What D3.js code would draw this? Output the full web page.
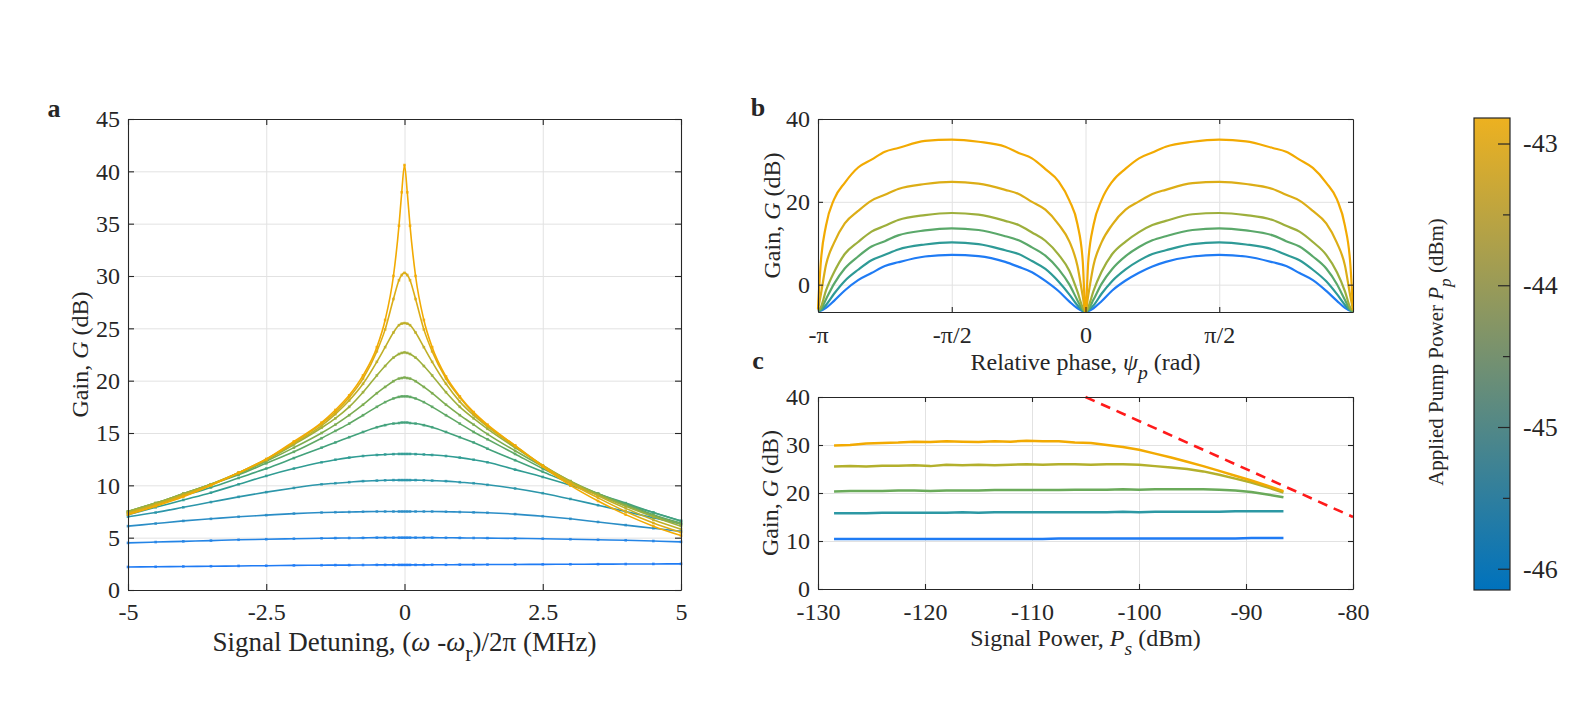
<!DOCTYPE html>
<html><head><meta charset="utf-8">
<script src="https://cdn.jsdelivr.net/npm/d3@7"></script>
<style>
body{margin:0;background:#fff;}
svg text{font-family:"Liberation Serif","Times New Roman",Times,serif;}
</style></head><body>
<script>
// ---------------- DATA ----------------
// Panel a: gain vs signal detuning (MHz)
const detuningMHz = [-5,-4.5,-4,-3.5,-3,-2.5,-2,-1.5,-1.25,-1,-0.75,-0.5,-0.35,-0.2,-0.1,-0.05,0,0.05,0.1,0.2,0.35,0.5,0.75,1,1.25,1.5,2,2.5,3,3.5,4,4.5,5];
const gainA1  = [2.2,2.22,2.25,2.27,2.3,2.32,2.35,2.37,2.38,2.38,2.39,2.4,2.4,2.4,2.4,2.4,2.4,2.4,2.4,2.4,2.4,2.41,2.41,2.42,2.42,2.43,2.44,2.45,2.46,2.47,2.48,2.49,2.5];
const gainA2  = [4.5,4.58,4.65,4.72,4.8,4.85,4.9,4.94,4.96,4.97,4.98,5.0,5.0,5.0,5.0,5.0,5.0,5.0,5.0,5.0,5.0,5.0,4.99,4.98,4.97,4.96,4.93,4.9,4.85,4.8,4.75,4.68,4.6];
const gainA3  = [6.1,6.35,6.6,6.8,7.0,7.15,7.3,7.4,7.43,7.45,7.48,7.5,7.5,7.5,7.5,7.5,7.5,7.5,7.5,7.5,7.5,7.5,7.48,7.45,7.42,7.38,7.25,7.05,6.8,6.5,6.2,5.9,5.6];
const gainA4  = [7.0,7.4,7.9,8.4,8.9,9.35,9.75,10.1,10.2,10.3,10.4,10.45,10.48,10.5,10.5,10.5,10.5,10.5,10.5,10.5,10.48,10.45,10.4,10.3,10.2,10.05,9.7,9.25,8.7,8.1,7.5,6.9,6.3];
const gainA5  = [7.2,7.9,8.6,9.3,10.1,10.9,11.6,12.2,12.45,12.65,12.8,12.9,12.95,12.98,13.0,13.0,13.0,13.0,13.0,12.98,12.95,12.9,12.8,12.65,12.45,12.2,11.5,10.8,10.0,9.1,8.2,7.4,6.6];
const gainA6  = [7.4,8.2,9.0,9.8,10.7,11.6,12.6,13.6,14.1,14.6,15.1,15.55,15.75,15.9,15.95,16.0,16.0,16.0,15.95,15.9,15.75,15.55,15.1,14.6,14.1,13.5,12.4,11.3,10.2,9.2,8.3,7.4,6.6];
const gainA7  = [7.5,8.3,9.2,10.1,11.0,12.1,13.2,14.5,15.2,15.9,16.7,17.5,17.95,18.3,18.45,18.5,18.5,18.5,18.45,18.3,17.95,17.5,16.7,15.9,15.1,14.4,13.0,11.6,10.3,9.2,8.2,7.2,6.4];
const gainA8  = [7.5,8.3,9.2,10.1,11.1,12.3,13.6,15.0,15.8,16.7,17.7,18.8,19.4,19.95,20.2,20.25,20.3,20.25,20.2,19.95,19.4,18.8,17.7,16.7,15.8,14.9,13.3,11.8,10.4,9.2,8.1,7.1,6.3];
const gainA9  = [7.5,8.3,9.2,10.1,11.2,12.4,13.9,15.5,16.4,17.5,18.9,20.5,21.4,22.2,22.55,22.65,22.7,22.65,22.55,22.2,21.4,20.5,18.9,17.5,16.4,15.4,13.6,11.9,10.4,9.1,8.0,7.0,6.1];
const gainA10 = [7.4,8.2,9.1,10.1,11.2,12.5,14.0,15.7,16.8,18.1,19.7,21.8,23.2,24.6,25.3,25.45,25.5,25.45,25.3,24.6,23.2,21.8,19.7,18.0,16.7,15.6,13.7,11.9,10.3,9.0,7.8,6.7,5.8];
const gainA11 = [7.3,8.1,9.0,10.0,11.2,12.5,14.1,15.9,17.0,18.4,20.2,22.8,24.9,27.8,29.6,30.1,30.3,30.1,29.6,27.8,24.9,22.8,20.2,18.4,16.9,15.7,13.8,11.9,10.2,8.8,7.5,6.4,5.5];
const gainA12 = [7.2,8.0,8.9,10.0,11.2,12.5,14.2,16.0,17.2,18.6,20.5,23.2,25.8,30.0,34.8,38.0,40.6,38.0,34.8,30.0,25.8,23.2,20.4,18.5,17.0,15.8,13.8,11.8,10.0,8.5,7.2,6.1,5.2];
const seriesA = [gainA1,gainA2,gainA3,gainA4,gainA5,gainA6,gainA7,gainA8,gainA9,gainA10,gainA11,gainA12];
const coloursA = ["#1f7bf4","#2384e6","#2a8dc6","#2c96aa","#309c93","#43a27c","#5fa865","#7cac50","#9daf3c","#bfaf28","#dcad16","#f2aa02"];
const xTicksA = [-5,-2.5,0,2.5,5];
const yTicksA = [0,5,10,15,20,25,30,35,40,45];

// Panel b: gain vs relative phase (in units of pi)
const phaseFrac = [-1,-0.99,-0.97,-0.94,-0.9,-0.85,-0.8,-0.75,-0.7,-0.6,-0.5,-0.4,-0.3,-0.25,-0.2,-0.15,-0.1,-0.06,-0.03,-0.01,0,0.01,0.03,0.06,0.1,0.15,0.2,0.25,0.3,0.4,0.5,0.6,0.7,0.75,0.8,0.85,0.9,0.94,0.97,0.99,1];
const gainB1 = [-6.4,-6.3,-5.6,-3.9,-1.4,1.1,2.8,4.5,5.4,6.8,7.2,6.9,5.5,4.3,3.0,0.9,-1.6,-4.1,-5.7,-6.4,-6.6,-6.4,-5.7,-4.0,-1.4,1.0,2.9,4.4,5.5,6.8,7.2,6.8,5.4,4.5,2.8,1.1,-1.5,-3.9,-5.6,-6.3,-6.4];
const gainB2 = [-6.4,-6.2,-4.9,-2.2,0.9,3.6,5.9,7.2,8.5,9.7,10.2,9.8,8.3,7.4,5.7,3.8,0.7,-2.4,-5.0,-6.3,-6.6,-6.2,-5.0,-2.2,0.9,3.7,5.8,7.4,8.3,9.8,10.2,9.7,8.5,7.2,5.9,3.6,0.8,-2.3,-4.9,-6.2,-6.4];
const gainB3 = [-6.3,-6.0,-3.5,0.2,3.9,6.8,9.2,10.5,11.9,13.1,13.6,13.2,11.7,10.7,9.0,7.0,3.7,0.0,-3.8,-6.1,-6.6,-6.0,-3.6,0.2,3.8,6.9,9.1,10.7,11.7,13.2,13.6,13.1,11.9,10.5,9.2,6.8,3.9,0.1,-3.7,-6.1,-6.4];
const gainB4 = [-6.2,-5.5,-1.4,3.0,7.4,10.3,12.8,14.2,15.6,16.8,17.3,16.9,15.4,14.4,12.6,10.6,7.2,3.3,-1.7,-5.6,-6.6,-5.5,-1.5,3.1,7.4,10.4,12.7,14.4,15.4,17.0,17.3,16.8,15.6,14.2,12.8,10.3,7.2,3.0,-1.6,-5.6,-6.3];
const gainB5 = [-6.0,-2.6,4.8,10.1,14.8,17.8,20.3,21.7,23.1,24.3,24.8,24.4,22.9,21.9,20.0,18.1,14.5,10.4,4.5,-2.9,-6.6,-2.7,4.7,10.2,14.5,18.1,20.1,21.9,22.9,24.5,24.8,24.3,23.1,21.7,20.3,17.8,14.8,10.1,4.6,-2.8,-6.1];
const gainB6 = [-5.8,5.0,14.3,20.6,24.6,28.3,30.2,32.1,33.0,34.7,35.0,34.5,33.3,31.8,30.5,27.9,24.9,20.3,14.6,5.4,-6.6,5.3,14.4,20.4,24.9,28.0,30.5,31.9,33.3,34.5,35.0,34.6,33.0,32.1,30.2,28.2,24.6,20.6,14.2,5.0,-6.0];
const seriesB = [gainB1,gainB2,gainB3,gainB4,gainB5,gainB6];
const coloursB = ["#1f7bf4","#2e9a96","#5aa86a","#9daf3c","#dcad16","#f2aa02"];
const xTicksB = [-1,-0.5,0,0.5];
const xTickLabelsB = ["-\u03C0","-\u03C0/2","0","\u03C0/2"];
const yTicksB = [0,20,40];

// Panel c: gain vs signal power (dBm)
const signalPower = [-128.5,-127,-125.5,-124,-122.5,-121,-119.5,-118,-116.5,-115,-113.5,-112,-110.5,-109,-107.5,-106,-104.5,-103,-101.5,-100,-98.5,-97,-95.5,-94,-92.5,-91,-89.5,-88,-86.5];
const gainC1 = [10.4,10.4,10.4,10.4,10.4,10.4,10.4,10.4,10.4,10.4,10.4,10.4,10.4,10.4,10.5,10.5,10.5,10.5,10.5,10.5,10.5,10.5,10.5,10.5,10.5,10.5,10.6,10.6,10.6];
const gainC2 = [15.8,15.8,15.8,15.9,15.9,15.9,15.9,15.9,16.0,15.9,16.0,16.0,16.0,16.0,16.0,16.0,16.0,16.0,16.1,16.0,16.1,16.1,16.1,16.1,16.1,16.2,16.2,16.2,16.2];
const gainC3 = [20.3,20.4,20.4,20.4,20.5,20.5,20.4,20.5,20.5,20.5,20.6,20.6,20.6,20.6,20.6,20.7,20.7,20.7,20.8,20.7,20.8,20.8,20.8,20.8,20.7,20.5,20.2,19.7,19.1];
const gainC4 = [25.5,25.6,25.5,25.7,25.7,25.8,25.6,25.9,25.8,25.9,25.8,25.9,26.0,25.9,26.0,26.0,25.9,26.0,26.0,25.9,25.6,25.3,25.0,24.5,23.8,23.0,22.2,21.2,20.1];
const gainC5 = [29.9,30.0,30.3,30.4,30.5,30.7,30.6,30.8,30.7,30.6,30.8,30.7,30.9,30.8,30.8,30.5,30.4,30.0,29.6,29.0,28.2,27.4,26.5,25.6,24.6,23.6,22.6,21.5,20.4];
const seriesC = [gainC1,gainC2,gainC3,gainC4,gainC5];
const coloursC = ["#1f7bf4","#2c98a4","#6aaa5a","#b3b02c","#f2aa02"];
const limitPower = [-105,-80];
const limitGain = [40,15];
const xTicksC = [-130,-120,-110,-100,-90,-80];
const yTicksC = [0,10,20,30,40];

// Colour bar
const pumpDomain = [-46.15,-42.82];
const pumpTicks = [-46,-45,-44,-43];
const pumpMinorTicks = [-45.5,-44.5,-43.5];

// ---------------- DRAWING ----------------
const FONT = '"Liberation Serif","Times New Roman",Times,serif';
const AX = "#262626";
const TICKFS = 24;
const svg = d3.select("body").append("svg").attr("width",1595).attr("height",709);

function richText(parent, x, y, parts, fs, opts={}) {
  const g = parent.append("g").attr("transform", `translate(${x},${y})` + (opts.rotate ? ` rotate(${opts.rotate})` : ""));
  const t = g.append("text").attr("text-anchor", opts.anchor || "middle")
    .style("font-family", FONT).attr("font-size", fs).attr("fill", AX)
    .attr("font-weight", opts.bold ? "bold" : "normal");
  let shifted = 0;
  parts.forEach(p => {
    const s = t.append("tspan").text(p.t);
    if (p.i) s.attr("font-style","italic");
    if (p.sub) { s.attr("font-size", fs*0.82).attr("dy", fs*0.38); shifted += fs*0.38; }
    else if (shifted) { s.attr("dy", -shifted); shifted = 0; }
  });
  return t;
}

function makePanel(box, xDom, yDom, xt, yt, xf, yf, tickLen, pad) {
  const x = d3.scaleLinear().domain(xDom).range([box.x0, box.x1]);
  const y = d3.scaleLinear().domain(yDom).range([box.y1, box.y0]);
  const w = box.x1 - box.x0, h = box.y1 - box.y0;
  const grid = svg.append("g");
  grid.append("g").attr("transform", `translate(0,${box.y1})`)
    .call(d3.axisBottom(x).tickValues(xt).tickSize(-h).tickFormat(""))
    .call(s => { s.select(".domain").remove(); s.selectAll("line").attr("stroke","#e2e2e2"); });
  grid.append("g").attr("transform", `translate(${box.x0},0)`)
    .call(d3.axisLeft(y).tickValues(yt).tickSize(-w).tickFormat(""))
    .call(s => { s.select(".domain").remove(); s.selectAll("line").attr("stroke","#e2e2e2"); });
  const data = svg.append("g");
  function finish() {
    const st = s => {
      s.attr("font-family", null);
      s.select(".domain").attr("stroke", AX).attr("stroke-width", 1.1);
      s.selectAll(".tick line").attr("stroke", AX).attr("stroke-width", 1.1);
      s.selectAll(".tick text").style("font-family", FONT).attr("font-size", TICKFS).attr("fill", AX);
    };
    svg.append("g").attr("transform", `translate(0,${box.y1})`)
      .call(d3.axisBottom(x).tickValues(xt).tickSize(-tickLen).tickSizeOuter(0).tickPadding(pad).tickFormat(xf)).call(st);
    svg.append("g").attr("transform", `translate(0,${box.y0})`)
      .call(d3.axisTop(x).tickValues(xt).tickSize(-tickLen).tickSizeOuter(0).tickFormat("")).call(st);
    svg.append("g").attr("transform", `translate(${box.x0},0)`)
      .call(d3.axisLeft(y).tickValues(yt).tickSize(-tickLen).tickSizeOuter(0).tickPadding(8).tickFormat(yf)).call(st);
    svg.append("g").attr("transform", `translate(${box.x1},0)`)
      .call(d3.axisRight(y).tickValues(yt).tickSize(-tickLen).tickSizeOuter(0).tickFormat("")).call(st);
  }
  return {x, y, data, finish};
}

// ---- Panel a ----
const boxA = {x0:128, x1:681, y0:119, y1:590};
const pA = makePanel(boxA, [-5,5], [0,45], xTicksA, yTicksA, d => String(d), d => String(d), 6, 13);
seriesA.forEach((s, k) => {
  const pts = detuningMHz.map((d, i) => [d, s[i]]);
  pA.data.append("path").datum(pts)
    .attr("d", d3.line().x(d => pA.x(d[0])).y(d => pA.y(d[1])).curve(d3.curveMonotoneX))
    .attr("fill","none").attr("stroke", coloursA[k]).attr("stroke-width", 1.6);
  pA.data.selectAll(null).data(pts).enter().append("rect")
    .attr("x", d => pA.x(d[0]) - 1.3).attr("y", d => pA.y(d[1]) - 1.3)
    .attr("width", 2.6).attr("height", 2.6).attr("fill", coloursA[k]).attr("opacity", 0.85);
});
pA.finish();
richText(svg, (boxA.x0+boxA.x1)/2, 651, [{t:"Signal Detuning, ("},{t:"\u03C9",i:true},{t:" -"},{t:"\u03C9",i:true},{t:"r",sub:true},{t:")/2\u03C0 (MHz)"}], 27);
richText(svg, 88, (boxA.y0+boxA.y1)/2, [{t:"Gain, "},{t:"G",i:true},{t:" (dB)"}], 24, {rotate:-90});
richText(svg, 54, 117, [{t:"a"}], 26, {bold:true});

// ---- Panel b ----
const boxB = {x0:818, x1:1353, y0:119, y1:312};
const pB = makePanel(boxB, [-1,1], [-6.6,40], xTicksB, yTicksB, (d,i) => xTickLabelsB[i], d => String(d), 5, 14);
seriesB.forEach((s, k) => {
  const pts = phaseFrac.map((d, i) => [d, s[i]]);
  pB.data.append("path").datum(pts)
    .attr("d", d3.line().x(d => pB.x(d[0])).y(d => pB.y(d[1])).curve(d3.curveMonotoneX))
    .attr("fill","none").attr("stroke", coloursB[k]).attr("stroke-width", 2.2);
});
pB.finish();
richText(svg, (boxB.x0+boxB.x1)/2, 370, [{t:"Relative phase, "},{t:"\u03C8",i:true},{t:"p",sub:true,i:true},{t:" (rad)"}], 24);
richText(svg, 780, (boxB.y0+boxB.y1)/2, [{t:"Gain, "},{t:"G",i:true},{t:" (dB)"}], 24, {rotate:-90});
richText(svg, 758, 116, [{t:"b"}], 26, {bold:true});

// ---- Panel c ----
const boxC = {x0:818, x1:1353, y0:397, y1:589};
const pC = makePanel(boxC, [-130,-80], [0,40], xTicksC, yTicksC, d => String(d), d => String(d), 5, 14);
seriesC.forEach((s, k) => {
  const pts = signalPower.map((d, i) => [d, s[i]]);
  pC.data.append("path").datum(pts)
    .attr("d", d3.line().x(d => pC.x(d[0])).y(d => pC.y(d[1])))
    .attr("fill","none").attr("stroke", coloursC[k]).attr("stroke-width", 2.5).attr("stroke-linejoin","round");
});
pC.data.append("path").datum(limitPower.map((d,i) => [d, limitGain[i]]))
  .attr("d", d3.line().x(d => pC.x(d[0])).y(d => pC.y(d[1])))
  .attr("fill","none").attr("stroke","#ff1a1a").attr("stroke-width",2.6).attr("stroke-dasharray","10,7");
pC.finish();
richText(svg, (boxC.x0+boxC.x1)/2, 646, [{t:"Signal Power, "},{t:"P",i:true},{t:"s",sub:true,i:true},{t:" (dBm)"}], 24);
richText(svg, 778, (boxC.y0+boxC.y1)/2, [{t:"Gain, "},{t:"G",i:true},{t:" (dB)"}], 24, {rotate:-90});
richText(svg, 758, 369, [{t:"c"}], 26, {bold:true});

// ---- Colour bar ----
const cb = {x0:1474, x1:1510, y0:118, y1:590};
const defs = svg.append("defs");
const grad = defs.append("linearGradient").attr("id","cbg").attr("x1",0).attr("y1",1).attr("x2",0).attr("y2",0);
grad.append("stop").attr("offset","0%").attr("stop-color","#0072BD");
grad.append("stop").attr("offset","100%").attr("stop-color","#EDB120");
svg.append("rect").attr("x",cb.x0).attr("y",cb.y0).attr("width",cb.x1-cb.x0).attr("height",cb.y1-cb.y0)
  .attr("fill","url(#cbg)").attr("stroke",AX).attr("stroke-width",1.2);
const cbScale = d3.scaleLinear().domain(pumpDomain).range([cb.y1, cb.y0]);
svg.append("g").attr("transform",`translate(${cb.x1},0)`)
  .call(d3.axisRight(cbScale).tickValues(pumpTicks).tickSize(-12).tickSizeOuter(0).tickPadding(13).tickFormat(d => String(d)))
  .call(s => { s.attr("font-family", null); s.select(".domain").remove();
    s.selectAll(".tick line").attr("stroke",AX).attr("stroke-width",1.2);
    s.selectAll(".tick text").style("font-family",FONT).attr("font-size",26).attr("fill",AX); });
svg.append("g").attr("transform",`translate(${cb.x1},0)`)
  .call(d3.axisRight(cbScale).tickValues(pumpMinorTicks).tickSize(-7).tickFormat(""))
  .call(s => { s.select(".domain").remove(); s.selectAll(".tick line").attr("stroke",AX).attr("stroke-width",1.2); });
richText(svg, 1443, 352, [{t:"Applied Pump Power "},{t:"P",i:true},{t:"p",sub:true,i:true},{t:" (dBm)"}], 21, {rotate:-90});
</script>
</body></html>
